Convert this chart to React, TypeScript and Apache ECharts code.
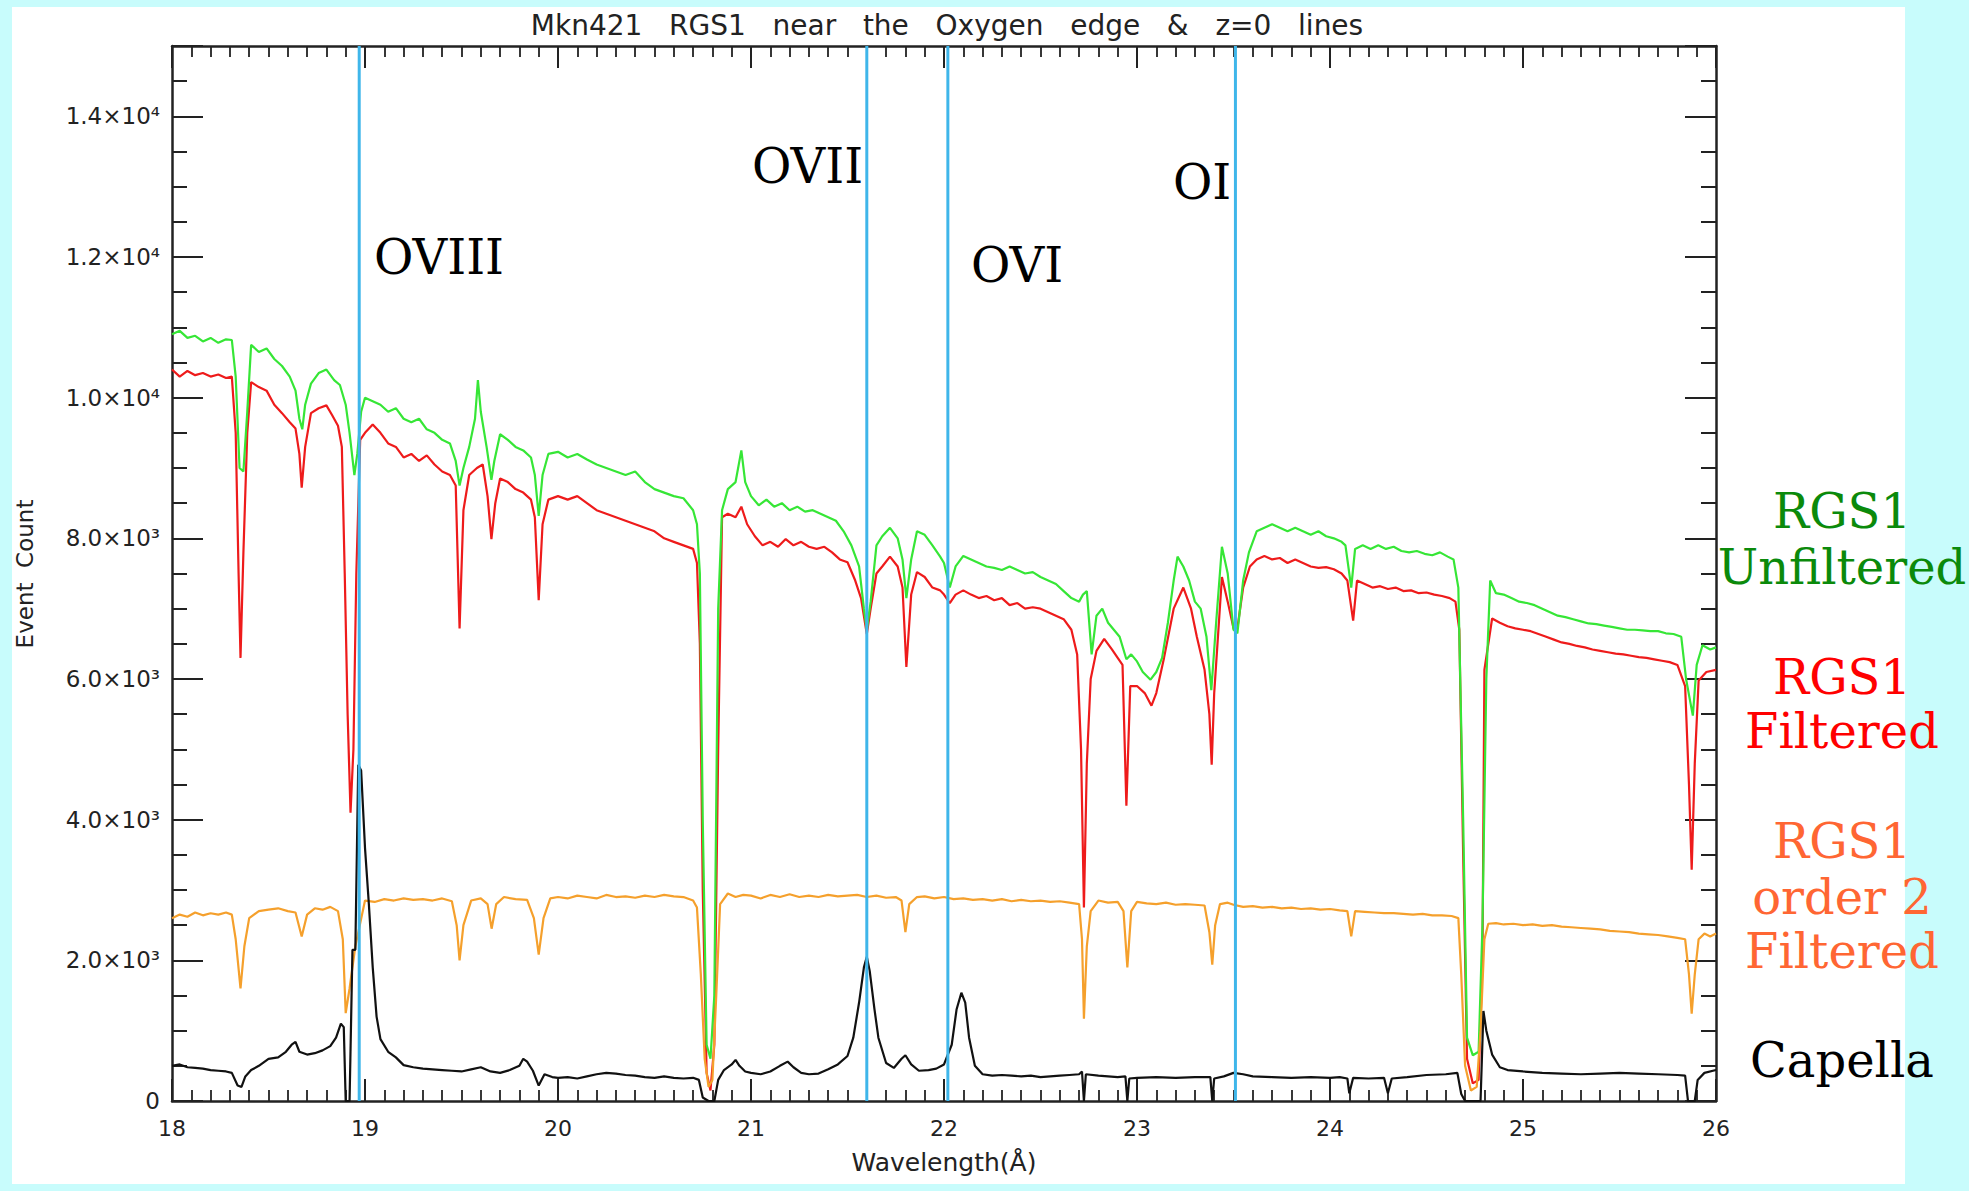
import React, { useEffect, useRef } from 'react';
import * as echarts from 'echarts';

// RGS1 unfiltered (green): [wavelength Å, event count]
const unfiltered: [number, number][] = [
  [18.0, 10900], [18.04, 10950], [18.08, 10850], [18.12, 10880], [18.16, 10800], [18.2, 10850],
  [18.24, 10780], [18.28, 10830], [18.31, 10820], [18.33, 10300], [18.35, 9000], [18.37, 8950],
  [18.39, 9800], [18.41, 10750], [18.45, 10650], [18.49, 10700], [18.53, 10550], [18.57, 10450],
  [18.61, 10300], [18.64, 10100], [18.66, 9700], [18.675, 9550], [18.69, 9900], [18.72, 10200],
  [18.76, 10350], [18.8, 10400], [18.84, 10250], [18.87, 10180], [18.9, 9900], [18.92, 9500],
  [18.945, 8900], [18.96, 9200], [18.98, 9800], [19.0, 10000], [19.04, 9950], [19.08, 9900],
  [19.12, 9800], [19.16, 9850], [19.2, 9700], [19.24, 9650], [19.28, 9700], [19.32, 9550],
  [19.36, 9500], [19.4, 9400], [19.44, 9350], [19.47, 9100], [19.49, 8750], [19.51, 9000],
  [19.54, 9300], [19.57, 9700], [19.585, 10250], [19.6, 9800], [19.63, 9300], [19.655, 8830],
  [19.67, 9100], [19.7, 9480], [19.74, 9400], [19.78, 9300], [19.82, 9250], [19.86, 9150],
  [19.88, 8900], [19.9, 8320], [19.92, 8900], [19.95, 9200], [20.0, 9230], [20.05, 9150],
  [20.1, 9200], [20.15, 9120], [20.2, 9050], [20.25, 9000], [20.3, 8950], [20.35, 8900],
  [20.4, 8950], [20.45, 8800], [20.5, 8700], [20.55, 8650], [20.6, 8600], [20.65, 8570],
  [20.7, 8400], [20.72, 8200], [20.735, 7500], [20.75, 4000], [20.77, 800], [20.79, 600],
  [20.81, 1500], [20.83, 7000], [20.85, 8400], [20.88, 8700], [20.92, 8800], [20.95, 9250],
  [20.97, 8800], [21.0, 8600], [21.04, 8470], [21.08, 8550], [21.12, 8450], [21.16, 8500],
  [21.2, 8400], [21.24, 8450], [21.28, 8380], [21.32, 8400], [21.36, 8350], [21.4, 8300],
  [21.44, 8250], [21.48, 8100], [21.52, 7900], [21.56, 7600], [21.585, 7000], [21.6, 6700],
  [21.62, 7100], [21.65, 7900], [21.68, 8030], [21.72, 8150], [21.76, 8000], [21.785, 7700],
  [21.805, 7150], [21.83, 7700], [21.86, 8100], [21.9, 8050], [21.94, 7900], [21.98, 7740],
  [22.0, 7650], [22.03, 7300], [22.06, 7600], [22.1, 7750], [22.14, 7700], [22.18, 7650],
  [22.22, 7600], [22.26, 7580], [22.3, 7550], [22.34, 7600], [22.38, 7550], [22.42, 7500],
  [22.46, 7520], [22.5, 7450], [22.54, 7400], [22.58, 7350], [22.62, 7250], [22.66, 7150],
  [22.7, 7100], [22.72, 7200], [22.74, 7250], [22.765, 6350], [22.79, 6900], [22.82, 7000],
  [22.85, 6800], [22.88, 6700], [22.91, 6600], [22.945, 6280], [22.97, 6350], [23.0, 6250],
  [23.03, 6100], [23.07, 5990], [23.1, 6100], [23.13, 6300], [23.16, 6800], [23.19, 7400],
  [23.21, 7740], [23.24, 7600], [23.27, 7400], [23.3, 7100], [23.33, 7000], [23.36, 6600],
  [23.385, 5840], [23.41, 6800], [23.44, 7880], [23.47, 7500], [23.5, 6700], [23.52, 6650],
  [23.55, 7400], [23.58, 7800], [23.62, 8100], [23.66, 8150], [23.7, 8200], [23.74, 8150],
  [23.78, 8100], [23.82, 8150], [23.86, 8100], [23.9, 8050], [23.94, 8100], [23.98, 8030],
  [24.02, 8000], [24.06, 7950], [24.08, 7900], [24.11, 7300], [24.13, 7850], [24.17, 7900],
  [24.21, 7850], [24.25, 7900], [24.29, 7850], [24.33, 7880], [24.37, 7820], [24.41, 7800],
  [24.45, 7820], [24.49, 7780], [24.53, 7760], [24.57, 7800], [24.61, 7740], [24.64, 7700],
  [24.665, 7300], [24.69, 4000], [24.71, 900], [24.74, 650], [24.77, 700], [24.79, 2500],
  [24.81, 6000], [24.83, 7400], [24.86, 7220], [24.9, 7200], [24.94, 7150], [24.98, 7100],
  [25.02, 7080], [25.06, 7050], [25.1, 7000], [25.14, 6950], [25.18, 6900], [25.22, 6880],
  [25.26, 6850], [25.3, 6820], [25.34, 6790], [25.38, 6780], [25.42, 6760], [25.46, 6740],
  [25.5, 6720], [25.54, 6700], [25.58, 6700], [25.62, 6690], [25.66, 6680], [25.7, 6680],
  [25.74, 6650], [25.78, 6640], [25.82, 6600], [25.845, 6000], [25.865, 5700], [25.88, 5480],
  [25.9, 6200], [25.93, 6480], [25.97, 6420], [26.0, 6450],
];

// RGS1 filtered (red)
const filtered: [number, number][] = [
  [18.0, 10400], [18.04, 10300], [18.08, 10380], [18.12, 10320], [18.16, 10350], [18.2, 10300],
  [18.24, 10330], [18.28, 10280], [18.31, 10300], [18.33, 9500], [18.345, 7500], [18.355, 6300],
  [18.37, 7800], [18.39, 9500], [18.41, 10220], [18.45, 10150], [18.49, 10100], [18.53, 9900],
  [18.57, 9780], [18.61, 9650], [18.64, 9560], [18.66, 9200], [18.672, 8720], [18.69, 9300],
  [18.72, 9780], [18.76, 9850], [18.8, 9890], [18.83, 9750], [18.86, 9600], [18.88, 9300],
  [18.895, 7500], [18.91, 5500], [18.925, 4100], [18.94, 5000], [18.955, 7500], [18.975, 9400],
  [19.0, 9500], [19.04, 9620], [19.08, 9500], [19.12, 9350], [19.16, 9300], [19.2, 9150],
  [19.24, 9200], [19.28, 9100], [19.32, 9180], [19.36, 9050], [19.4, 8950], [19.44, 8900],
  [19.47, 8750], [19.49, 6720], [19.51, 8400], [19.54, 8900], [19.58, 9000], [19.61, 9050],
  [19.635, 8600], [19.655, 7990], [19.675, 8500], [19.7, 8850], [19.74, 8800], [19.78, 8700],
  [19.82, 8650], [19.86, 8550], [19.88, 8300], [19.9, 7120], [19.92, 8200], [19.95, 8550],
  [20.0, 8600], [20.05, 8550], [20.1, 8600], [20.15, 8500], [20.2, 8400], [20.25, 8350],
  [20.3, 8300], [20.35, 8250], [20.4, 8200], [20.45, 8150], [20.5, 8100], [20.55, 8000],
  [20.6, 7950], [20.65, 7900], [20.7, 7850], [20.72, 7650], [20.735, 6500], [20.75, 3000],
  [20.77, 400], [20.79, 150], [20.81, 800], [20.83, 5000], [20.85, 8300], [20.88, 8350],
  [20.92, 8300], [20.95, 8450], [20.98, 8200], [21.02, 8030], [21.06, 7900], [21.1, 7950],
  [21.14, 7880], [21.18, 7990], [21.22, 7900], [21.26, 7950], [21.3, 7880], [21.34, 7850],
  [21.38, 7880], [21.42, 7800], [21.46, 7700], [21.5, 7660], [21.54, 7400], [21.57, 7150],
  [21.6, 6640], [21.62, 7000], [21.65, 7500], [21.68, 7600], [21.72, 7740], [21.76, 7600],
  [21.785, 7300], [21.805, 6170], [21.83, 7200], [21.86, 7520], [21.9, 7450], [21.94, 7300],
  [21.98, 7260], [22.0, 7200], [22.03, 7080], [22.06, 7200], [22.1, 7260], [22.14, 7200],
  [22.18, 7150], [22.22, 7180], [22.26, 7120], [22.3, 7150], [22.34, 7050], [22.38, 7080],
  [22.42, 7000], [22.46, 7020], [22.5, 7000], [22.54, 6950], [22.58, 6900], [22.62, 6850],
  [22.66, 6700], [22.69, 6350], [22.71, 5000], [22.725, 2750], [22.74, 4800], [22.76, 6000],
  [22.79, 6400], [22.83, 6570], [22.87, 6420], [22.9, 6300], [22.925, 6200], [22.945, 4200],
  [22.965, 5900], [23.0, 5900], [23.04, 5800], [23.075, 5620], [23.1, 5800], [23.14, 6300],
  [23.19, 7000], [23.24, 7300], [23.28, 7000], [23.31, 6600], [23.35, 6130], [23.375, 5500],
  [23.387, 4780], [23.4, 5800], [23.44, 7450], [23.47, 7100], [23.5, 6720], [23.52, 6720],
  [23.55, 7300], [23.585, 7600], [23.62, 7700], [23.66, 7750], [23.7, 7700], [23.74, 7720],
  [23.78, 7650], [23.82, 7700], [23.86, 7650], [23.9, 7600], [23.94, 7580], [23.98, 7590],
  [24.02, 7560], [24.06, 7500], [24.09, 7400], [24.12, 6830], [24.14, 7400], [24.18, 7350],
  [24.22, 7300], [24.26, 7320], [24.3, 7280], [24.34, 7300], [24.38, 7250], [24.42, 7260],
  [24.46, 7220], [24.5, 7230], [24.54, 7200], [24.58, 7180], [24.62, 7150], [24.65, 7100],
  [24.67, 6700], [24.69, 3500], [24.71, 600], [24.74, 250], [24.77, 300], [24.79, 2000],
  [24.8, 6130], [24.84, 6860], [24.88, 6800], [24.92, 6750], [24.96, 6720], [25.0, 6700],
  [25.04, 6680], [25.08, 6640], [25.12, 6600], [25.16, 6560], [25.2, 6520], [25.24, 6500],
  [25.28, 6470], [25.32, 6450], [25.36, 6420], [25.4, 6400], [25.44, 6380], [25.48, 6360],
  [25.52, 6350], [25.56, 6330], [25.6, 6310], [25.64, 6300], [25.68, 6280], [25.72, 6260],
  [25.76, 6240], [25.8, 6200], [25.84, 5900], [25.86, 4500], [25.874, 3290], [25.89, 4800],
  [25.91, 5980], [25.95, 6100], [26.0, 6130],
];

// RGS1 order 2 filtered (orange)
const order2: [number, number][] = [
  [18.0, 2600], [18.04, 2650], [18.08, 2620], [18.12, 2680], [18.16, 2640], [18.2, 2670],
  [18.24, 2650], [18.28, 2680], [18.31, 2650], [18.33, 2300], [18.355, 1600], [18.375, 2200],
  [18.4, 2600], [18.45, 2700], [18.5, 2720], [18.55, 2740], [18.6, 2700], [18.64, 2680],
  [18.672, 2340], [18.7, 2650], [18.74, 2740], [18.78, 2720], [18.82, 2760], [18.86, 2700],
  [18.885, 2300], [18.9, 1250], [18.92, 1600], [18.95, 2200], [19.0, 2850], [19.05, 2830],
  [19.1, 2870], [19.15, 2850], [19.2, 2880], [19.25, 2860], [19.3, 2870], [19.35, 2850],
  [19.4, 2880], [19.45, 2840], [19.475, 2500], [19.49, 2000], [19.51, 2500], [19.55, 2850],
  [19.6, 2880], [19.635, 2800], [19.656, 2450], [19.68, 2800], [19.72, 2900], [19.78, 2870],
  [19.84, 2860], [19.875, 2600], [19.9, 2080], [19.925, 2600], [19.96, 2880], [20.0, 2900],
  [20.05, 2880], [20.1, 2920], [20.15, 2900], [20.2, 2880], [20.25, 2930], [20.3, 2900],
  [20.35, 2910], [20.4, 2890], [20.45, 2920], [20.5, 2900], [20.55, 2930], [20.6, 2910],
  [20.65, 2900], [20.7, 2850], [20.72, 2750], [20.74, 1800], [20.76, 600], [20.78, 200],
  [20.8, 300], [20.82, 1500], [20.84, 2800], [20.88, 2950], [20.92, 2900], [20.96, 2930],
  [21.0, 2920], [21.05, 2880], [21.1, 2930], [21.15, 2900], [21.2, 2940], [21.25, 2900],
  [21.3, 2920], [21.35, 2900], [21.4, 2930], [21.45, 2910], [21.5, 2920], [21.55, 2930],
  [21.6, 2900], [21.65, 2920], [21.7, 2890], [21.75, 2900], [21.78, 2850], [21.8, 2400],
  [21.82, 2800], [21.86, 2900], [21.9, 2910], [21.95, 2880], [22.0, 2900], [22.05, 2870],
  [22.1, 2880], [22.15, 2860], [22.2, 2870], [22.25, 2850], [22.3, 2870], [22.35, 2840],
  [22.4, 2860], [22.45, 2840], [22.5, 2850], [22.55, 2830], [22.6, 2840], [22.65, 2820],
  [22.7, 2800], [22.715, 2300], [22.725, 1170], [22.74, 2200], [22.76, 2700], [22.8, 2850],
  [22.85, 2820], [22.9, 2830], [22.93, 2700], [22.95, 1900], [22.97, 2700], [23.0, 2830],
  [23.05, 2810], [23.1, 2800], [23.15, 2820], [23.2, 2790], [23.25, 2800], [23.3, 2790],
  [23.35, 2780], [23.375, 2400], [23.39, 1940], [23.405, 2500], [23.43, 2800], [23.47, 2820],
  [23.5, 2790], [23.55, 2760], [23.6, 2770], [23.65, 2750], [23.7, 2760], [23.75, 2740],
  [23.8, 2750], [23.85, 2730], [23.9, 2740], [23.95, 2720], [24.0, 2730], [24.05, 2710],
  [24.09, 2700], [24.11, 2340], [24.13, 2700], [24.18, 2690], [24.23, 2680], [24.28, 2670],
  [24.33, 2670], [24.38, 2660], [24.43, 2650], [24.48, 2660], [24.53, 2640], [24.58, 2640],
  [24.63, 2630], [24.665, 2600], [24.68, 1800], [24.7, 500], [24.73, 150], [24.76, 200],
  [24.78, 1000], [24.8, 2300], [24.82, 2520], [24.86, 2530], [24.9, 2510], [24.95, 2520],
  [25.0, 2500], [25.05, 2510], [25.1, 2490], [25.15, 2500], [25.2, 2480], [25.25, 2470],
  [25.3, 2460], [25.35, 2450], [25.4, 2440], [25.45, 2420], [25.5, 2410], [25.55, 2400],
  [25.6, 2380], [25.65, 2370], [25.7, 2360], [25.75, 2340], [25.8, 2320], [25.84, 2300],
  [25.86, 1800], [25.874, 1240], [25.89, 1800], [25.91, 2300], [25.94, 2380], [25.97, 2340],
  [26.0, 2380],
];

// Capella (black)
const capella: [number, number][] = [
  [18.0, 500], [18.04, 520], [18.08, 480], [18.12, 470], [18.16, 460], [18.2, 440],
  [18.24, 430], [18.28, 420], [18.31, 400], [18.34, 220], [18.36, 200], [18.38, 350],
  [18.41, 440], [18.45, 500], [18.5, 600], [18.55, 620], [18.59, 700], [18.62, 800],
  [18.64, 840], [18.66, 700], [18.7, 660], [18.74, 680], [18.78, 720], [18.82, 780],
  [18.85, 900], [18.875, 1100], [18.89, 1050], [18.9, 0], [18.92, 0], [18.935, 2150],
  [18.95, 2150], [18.965, 4780], [18.98, 4700], [19.0, 3600], [19.02, 2800], [19.04, 1900],
  [19.06, 1200], [19.08, 880], [19.12, 700], [19.16, 620], [19.2, 510], [19.25, 480],
  [19.3, 460], [19.35, 450], [19.4, 440], [19.45, 430], [19.5, 420], [19.55, 450],
  [19.6, 480], [19.65, 420], [19.7, 400], [19.75, 440], [19.8, 500], [19.82, 600],
  [19.84, 560], [19.87, 430], [19.9, 220], [19.93, 380], [19.97, 340], [20.0, 330],
  [20.05, 340], [20.1, 320], [20.15, 350], [20.2, 380], [20.25, 400], [20.3, 390],
  [20.35, 370], [20.4, 360], [20.45, 340], [20.5, 330], [20.55, 350], [20.6, 330],
  [20.65, 320], [20.7, 330], [20.73, 300], [20.75, 50], [20.78, 0], [20.81, 0],
  [20.83, 300], [20.86, 440], [20.9, 520], [20.92, 585], [20.94, 500], [20.97, 420],
  [21.0, 400], [21.05, 380], [21.1, 420], [21.15, 500], [21.19, 560], [21.22, 480],
  [21.26, 400], [21.3, 380], [21.35, 390], [21.4, 450], [21.45, 520], [21.5, 640],
  [21.53, 900], [21.56, 1400], [21.585, 1900], [21.6, 2050], [21.615, 1850], [21.64, 1300],
  [21.66, 900], [21.7, 540], [21.74, 470], [21.78, 600], [21.8, 650], [21.83, 520],
  [21.87, 430], [21.92, 440], [21.96, 460], [22.0, 520], [22.04, 800], [22.065, 1300],
  [22.09, 1540], [22.11, 1400], [22.13, 900], [22.16, 500], [22.2, 380], [22.25, 360],
  [22.3, 370], [22.35, 360], [22.4, 350], [22.45, 360], [22.5, 340], [22.55, 350],
  [22.6, 360], [22.65, 370], [22.7, 380], [22.715, 420], [22.725, 0], [22.735, 380],
  [22.8, 360], [22.85, 350], [22.9, 340], [22.94, 350], [22.95, 0], [22.96, 320],
  [23.0, 330], [23.1, 340], [23.2, 330], [23.3, 340], [23.38, 340], [23.39, 0],
  [23.4, 320], [23.45, 350], [23.5, 400], [23.55, 380], [23.6, 350], [23.7, 340],
  [23.8, 330], [23.9, 340], [24.0, 330], [24.05, 340], [24.09, 320], [24.1, 110],
  [24.12, 330], [24.2, 320], [24.28, 330], [24.3, 110], [24.32, 320], [24.4, 340],
  [24.5, 370], [24.6, 380], [24.66, 400], [24.68, 100], [24.7, 0], [24.75, 0],
  [24.78, 0], [24.795, 1280], [24.81, 1000], [24.84, 660], [24.88, 480], [24.92, 440],
  [25.0, 420], [25.1, 400], [25.2, 390], [25.3, 380], [25.4, 390], [25.5, 400],
  [25.6, 390], [25.7, 380], [25.8, 370], [25.84, 360], [25.855, 0], [25.89, 0],
  [25.905, 300], [25.94, 400], [26.0, 440],
];

// z=0 ion line positions (Å) and names
const ionLines = [18.97, 21.6, 22.02, 23.51];
const ionNames = ['OVIII', 'OVII', 'OVI', 'OI'];

// y tick values and labels
const yTickValues = [0, 2000, 4000, 6000, 8000, 10000, 12000, 14000];
const yTickLabels = ['0', '2.0×10³', '4.0×10³', '6.0×10³', '8.0×10³', '1.0×10⁴', '1.2×10⁴', '1.4×10⁴'];

const AXIS_COLOR = '#222';
const SANS = '"DejaVu Sans", sans-serif';
const SERIF = '"DejaVu Serif", serif';

export default function App() {
  const ref = useRef<HTMLDivElement>(null);

  useEffect(() => {
    document.body.style.margin = '0';
    if (!ref.current) return;
    const chart = echarts.init(ref.current, null, { renderer: 'svg' });

    const lineStyleAxis = { color: AXIS_COLOR, width: 2.5 };
    const tickStyle = { color: AXIS_COLOR, width: 2 };

    const xBase = (pos: 'bottom' | 'top', labels: boolean) => ({
      type: 'value',
      min: 18,
      max: 26,
      interval: 1,
      position: pos,
      axisLine: { show: true, onZero: false, lineStyle: lineStyleAxis },
      axisTick: { show: true, inside: true, length: 22, lineStyle: tickStyle },
      minorTick: { show: true, splitNumber: 10, length: 11, lineStyle: { color: AXIS_COLOR, width: 1.8 } },
      axisLabel: {
        show: labels,
        fontSize: 22,
        fontFamily: SANS,
        color: AXIS_COLOR,
        margin: 16,
      },
      splitLine: { show: false },
      minorSplitLine: { show: false },
    });

    const yBase = (pos: 'left' | 'right', major: boolean, labels: boolean) => ({
      type: 'value',
      min: 0,
      max: 15000,
      interval: major ? 2000 : 500,
      position: pos,
      axisLine: { show: major, onZero: false, lineStyle: lineStyleAxis },
      axisTick: { show: true, inside: true, length: major ? 31 : 15, lineStyle: tickStyle },
      axisLabel: {
        show: labels,
        fontSize: 23,
        fontFamily: SANS,
        color: AXIS_COLOR,
        margin: 12,
        formatter: (v: number) => {
          const i = yTickValues.indexOf(v);
          return i >= 0 ? yTickLabels[i] : '';
        },
      },
      splitLine: { show: false },
    });

    const spectrum = (name: string, data: [number, number][], color: string, z: number) => ({
      name,
      type: 'line',
      data,
      xAxisIndex: 0,
      yAxisIndex: 0,
      showSymbol: false,
      symbol: 'none',
      z,
      lineStyle: { color, width: 2.2 },
      emphasis: { disabled: true },
      clip: true,
    });

    const ionSeries = ionLines.map((w, i) => ({
      name: ionNames[i],
      type: 'line',
      data: [
        [w, 0],
        [w, 15000],
      ],
      xAxisIndex: 0,
      yAxisIndex: 0,
      showSymbol: false,
      symbol: 'none',
      z: 10,
      lineStyle: { color: '#3fb6ea', width: 3 },
      emphasis: { disabled: true },
    }));

    const txt = (text: string, x: number, y: number, fill: string, align: string, font: string) => ({
      type: 'text',
      x,
      y,
      z: 100,
      silent: true,
      style: {
        text,
        fill,
        font,
        textAlign: align,
        align,
        textVerticalAlign: 'middle',
        verticalAlign: 'middle',
      },
    });

    const labelFont = `48px ${SERIF}`;

    const option: any = {
      animation: false,
      backgroundColor: '#c8fcfc',
      title: {
        text: 'Mkn421   RGS1   near   the   Oxygen   edge   &   z=0   lines',
        left: 942,
        textAlign: 'center',
        top: 6,
        textStyle: { fontFamily: SANS, fontSize: 28, fontWeight: 'normal', color: AXIS_COLOR },
      },
      grid: { left: 172, right: 253, top: 46, bottom: 90, containLabel: false, show: false },
      xAxis: [xBase('bottom', true), xBase('top', false)],
      yAxis: [yBase('left', true, true), yBase('left', false, false), yBase('right', true, false), yBase('right', false, false)],
      series: [
        spectrum('RGS1 Filtered', filtered, '#ee1b1b', 2),
        spectrum('RGS1 Unfiltered', unfiltered, '#36e636', 3),
        spectrum('RGS1 order 2 Filtered', order2, '#f5a02c', 4),
        spectrum('Capella', capella, '#111111', 5),
        ...ionSeries,
      ],
      graphic: [
        {
          type: 'rect',
          z: -100,
          silent: true,
          shape: { x: 12, y: 7, width: 1893, height: 1177 },
          style: { fill: '#ffffff' },
        },
        txt('OVIII', 374, 257, '#000', 'left', labelFont),
        txt('OVII', 752, 166, '#000', 'left', labelFont),
        txt('OVI', 971, 265, '#000', 'left', labelFont),
        txt('OI', 1173, 182, '#000', 'left', labelFont),
        txt('RGS1', 1842, 511, '#0b8a0b', 'center', labelFont),
        txt('Unfiltered', 1842, 567, '#0b8a0b', 'center', labelFont),
        txt('RGS1', 1842, 677, '#ff0000', 'center', labelFont),
        txt('Filtered', 1842, 731, '#ff0000', 'center', labelFont),
        txt('RGS1', 1842, 841, '#ff6633', 'center', labelFont),
        txt('order 2', 1842, 897, '#ff6633', 'center', labelFont),
        txt('Filtered', 1842, 951, '#ff6633', 'center', labelFont),
        txt('Capella', 1842, 1060, '#000', 'center', labelFont),
        txt('Wavelength(Å)', 944, 1162, AXIS_COLOR, 'center', `25px ${SANS}`),
        {
          type: 'text',
          x: 25,
          y: 574,
          z: 100,
          rotation: Math.PI / 2,
          silent: true,
          style: {
            text: 'Event  Count',
            fill: AXIS_COLOR,
            font: `23px ${SANS}`,
            textAlign: 'center',
            align: 'center',
            textVerticalAlign: 'middle',
            verticalAlign: 'middle',
          },
        },
      ],
    };

    chart.setOption(option);
    return () => chart.dispose();
  }, []);

  return <div ref={ref} style={{ width: 1969, height: 1191 }} />;
}
